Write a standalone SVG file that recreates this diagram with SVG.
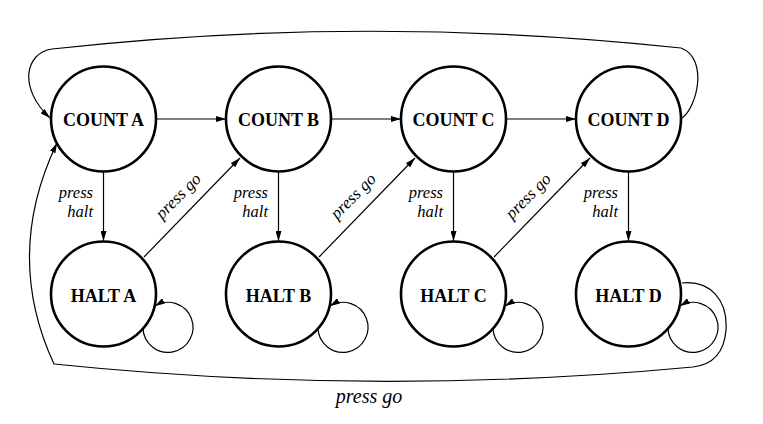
<svg xmlns="http://www.w3.org/2000/svg" width="763" height="424" viewBox="0 0 763 424">
<style>
.node{fill:#fff;stroke:#000;stroke-width:2.6}
.nl{font-family:"Liberation Serif","Times New Roman",serif;font-weight:bold;font-size:18px;text-anchor:middle;fill:#000}
.el{font-family:"Liberation Serif","Times New Roman",serif;font-style:italic;font-size:17px;fill:#000}
.vl{font-size:16.5px;text-anchor:end}
.edge{fill:none;stroke:#000;stroke-width:1.2}
</style>
<defs>
<marker id="ah" viewBox="0 0 10 6" refX="10" refY="3" markerWidth="10" markerHeight="6" markerUnits="userSpaceOnUse" orient="auto">
<path d="M0,0 L10,3 L0,6 z" fill="#000"/>
</marker>
</defs>
<rect width="763" height="424" fill="#fff"/>
<g id="connectors">
<path class="edge" marker-end="url(#ah)" d="M156,119 L226,119"/>
<path class="edge" marker-end="url(#ah)" d="M331,119 L401,119"/>
<path class="edge" marker-end="url(#ah)" d="M506,119 L576,119"/>
<path class="edge" marker-end="url(#ah)" d="M103.5,172 L103.5,241"/>
<path class="edge" marker-end="url(#ah)" d="M278.5,172 L278.5,241"/>
<path class="edge" marker-end="url(#ah)" d="M453.5,172 L453.5,241"/>
<path class="edge" marker-end="url(#ah)" d="M628.5,172 L628.5,241"/>
<path class="edge" marker-end="url(#ah)" d="M144,257 L240,158"/>
<path class="edge" marker-end="url(#ah)" d="M319,257 L415,158"/>
<path class="edge" marker-end="url(#ah)" d="M494,257 L590,158"/>
<path class="edge" marker-end="url(#ah)" d="M143,328 A25,25 0 1 0 155,306"/>
<path class="edge" marker-end="url(#ah)" d="M318,328 A25,25 0 1 0 330,306"/>
<path class="edge" marker-end="url(#ah)" d="M493,328 A25,25 0 1 0 505,306"/>
<path class="edge" marker-end="url(#ah)" d="M668,328 A25,25 0 1 0 680,306"/>
<path class="edge" marker-end="url(#ah)" d="M682,118 C698,106 708,58 681,48 Q366,14 52,49 C25,53 18,88 50,118"/>
<path class="edge" marker-end="url(#ah)" d="M682,283 C710,280 728,300 726,330 C724,355 710,365 693,367 Q373,397 54,364 Q3.5,255 57,143"/>
<text class="el vl" x="93" y="198">press</text>
<text class="el vl" x="93" y="216.5">halt</text>
<text class="el vl" x="268" y="198">press</text>
<text class="el vl" x="268" y="216.5">halt</text>
<text class="el vl" x="443" y="198">press</text>
<text class="el vl" x="443" y="216.5">halt</text>
<text class="el vl" x="618" y="198">press</text>
<text class="el vl" x="618" y="216.5">halt</text>
<text class="el" text-anchor="middle" transform="translate(182,200) rotate(-45)">press go</text>
<text class="el" text-anchor="middle" transform="translate(357,200) rotate(-45)">press go</text>
<text class="el" text-anchor="middle" transform="translate(532,200) rotate(-45)">press go</text>
<text class="el" text-anchor="middle" x="369" y="403" style="font-size:20px">press go</text>
</g>
<g id="countA"><circle class="node" cx="103.5" cy="119" r="52.5"/><text class="nl" x="103.5" y="126">COUNT A</text></g>
<g id="countB"><circle class="node" cx="278.5" cy="119" r="52.5"/><text class="nl" x="278.5" y="126">COUNT B</text></g>
<g id="countC"><circle class="node" cx="453.5" cy="119" r="52.5"/><text class="nl" x="453.5" y="126">COUNT C</text></g>
<g id="countD"><circle class="node" cx="628.5" cy="119" r="52.5"/><text class="nl" x="628.5" y="126">COUNT D</text></g>
<g id="haltA"><circle class="node" cx="103.5" cy="294" r="52.5"/><text class="nl" x="103.5" y="302">HALT A</text></g>
<g id="haltB"><circle class="node" cx="278.5" cy="294" r="52.5"/><text class="nl" x="278.5" y="302">HALT B</text></g>
<g id="haltC"><circle class="node" cx="453.5" cy="294" r="52.5"/><text class="nl" x="453.5" y="302">HALT C</text></g>
<g id="haltD"><circle class="node" cx="628.5" cy="294" r="52.5"/><text class="nl" x="628.5" y="302">HALT D</text></g>
</svg>
